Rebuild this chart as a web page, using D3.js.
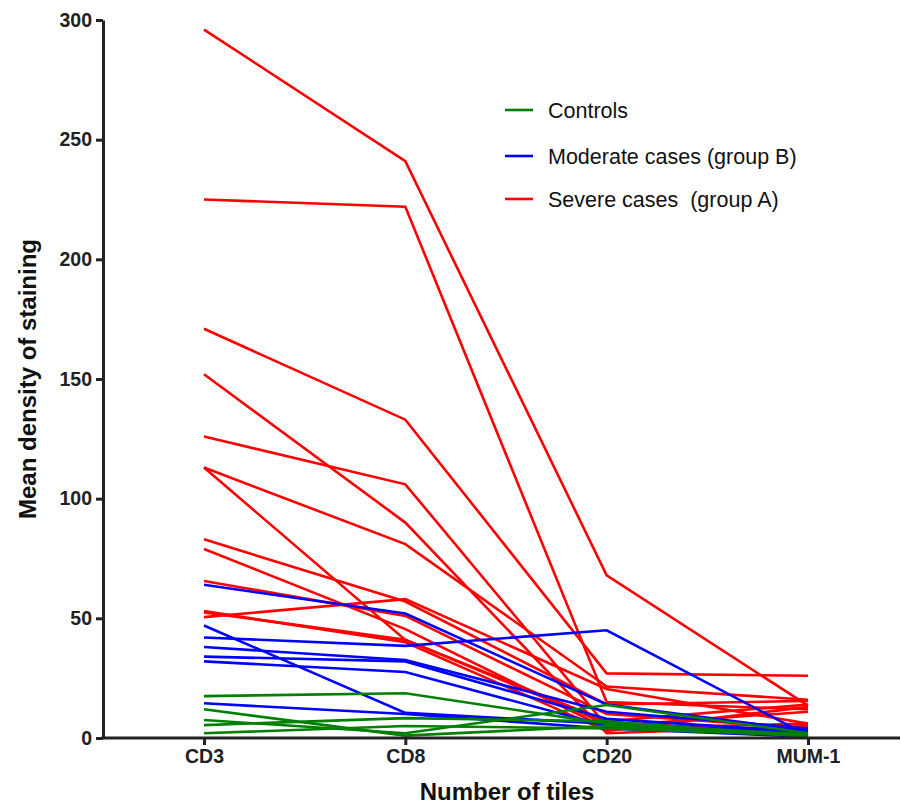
<!DOCTYPE html>
<html>
<head>
<meta charset="utf-8">
<script src="https://cdn.jsdelivr.net/npm/d3@7"></script>
<style>
  html, body { margin: 0; padding: 0; background: #fff; }
  svg { display: block; }
  text { font-family: "Liberation Sans", Arial, sans-serif; }
</style>
</head>
<body>
<svg id="chart" width="901" height="808"></svg>
<script>
const categories = ["CD3", "CD8", "CD20", "MUM-1"];
const yTicks = [0, 50, 100, 150, 200, 250, 300];

// Controls (green)
const controls = [
  [17.5, 18.7, 6, 1.5],
  [12, 1, 5, 1],
  [7.5, 2, 13.8, 2],
  [5.4, 8.3, 7, 0.5],
  [2, 5, 4, 1]
];
// Moderate cases, group B (blue)
const moderate = [
  [64, 52, 14, 3],
  [47, 10.5, 6, 2],
  [42, 38.5, 45, 1],
  [38, 32.6, 11, 4],
  [34, 32, 8, 2.5],
  [32, 27.6, 5, 1.5],
  [14.5, 10, 4, 0.5]
];
// Severe cases, group A (red)
const severe = [
  [296, 241, 68, 13.5],
  [225, 222, 15, 12],
  [171, 133, 27, 26],
  [152, 90, 2, 5],
  [126, 106, 5, 11],
  [113, 81, 21.5, 16],
  [113, 41, 7, 14],
  [83, 57, 14, 15.5],
  [79, 45.5, 4, 6],
  [65.6, 51, 10, 4],
  [53, 40, 3, 13],
  [52.5, 41, 6, 3],
  [50.5, 58, 20.5, 6]
];

const groupNames = ["Controls", "Moderate cases (group B)", "Severe cases  (group A)"];
const groupColors = ["#008000", "#0000ff", "#ff0000"];

const svg = d3.select("#chart");
const axisX0 = 103, axisX1 = 900;

const x = d3.scalePoint().domain(categories).range([204, 808]);
const y = d3.scaleLinear().domain([0, 300]).range([738, 20]);

const line = d3.line()
  .x((d, i) => x(categories[i]))
  .y(d => y(d));

// Draw series: severe first, then moderate, then controls
const groups = [
  { data: severe, color: groupColors[2] },
  { data: moderate, color: groupColors[1] },
  { data: controls, color: groupColors[0] }
];
groups.forEach(g => {
  svg.append("g").selectAll("path")
    .data(g.data)
    .join("path")
    .attr("d", line)
    .attr("fill", "none")
    .attr("stroke", g.color)
    .attr("stroke-width", 2.6)
    .attr("stroke-linejoin", "miter");
});

// Y axis
const yAxis = d3.axisLeft(y).tickValues(yTicks).tickSize(7).tickPadding(4).tickSizeOuter(0);
const gy = svg.append("g").attr("transform", `translate(${axisX0},0)`).call(yAxis);
gy.select(".domain").attr("stroke", "#222").attr("stroke-width", 3);
gy.selectAll(".tick line").attr("stroke", "#222").attr("stroke-width", 3);
gy.selectAll(".tick text")
  .attr("fill", "#222")
  .style("font-size", "19.5px")
  .style("font-weight", "bold")
  .style("font-family", "'Liberation Sans', Arial, sans-serif");

// X axis
const xAxis = d3.axisBottom(x).tickSize(7).tickPadding(4).tickSizeOuter(0);
const gx = svg.append("g").attr("transform", `translate(0,${y(0)})`).call(xAxis);
gx.select(".domain").remove();
gx.append("line")
  .attr("x1", axisX0 - 1.5).attr("x2", axisX1)
  .attr("y1", 0).attr("y2", 0)
  .attr("stroke", "#222").attr("stroke-width", 3);
gx.selectAll(".tick line").attr("stroke", "#222").attr("stroke-width", 3);
gx.selectAll(".tick text")
  .attr("fill", "#222")
  .style("font-size", "19.5px")
  .style("font-weight", "bold")
  .style("font-family", "'Liberation Sans', Arial, sans-serif");

// Axis titles
svg.append("text")
  .attr("x", 507).attr("y", 800)
  .attr("text-anchor", "middle")
  .style("font-size", "24px").style("font-weight", "bold")
  .attr("fill", "#111")
  .text("Number of tiles");

svg.append("text")
  .attr("transform", "translate(36,379) rotate(-90)")
  .attr("text-anchor", "middle")
  .style("font-size", "24px").style("font-weight", "bold")
  .attr("fill", "#111")
  .text("Mean density of staining");

// Legend
const legendY = [110, 156, 199];
const legend = svg.append("g");
groupNames.forEach((name, i) => {
  legend.append("line")
    .attr("x1", 505).attr("x2", 533)
    .attr("y1", legendY[i]).attr("y2", legendY[i])
    .attr("stroke", groupColors[i]).attr("stroke-width", 2.6);
  legend.append("text")
    .attr("x", 548).attr("y", legendY[i])
    .attr("dy", "0.35em")
    .style("font-size", "21.5px")
    .style("white-space", "pre")
    .attr("xml:space", "preserve")
    .attr("fill", "#111")
    .text(name);
});
</script>
</body>
</html>
